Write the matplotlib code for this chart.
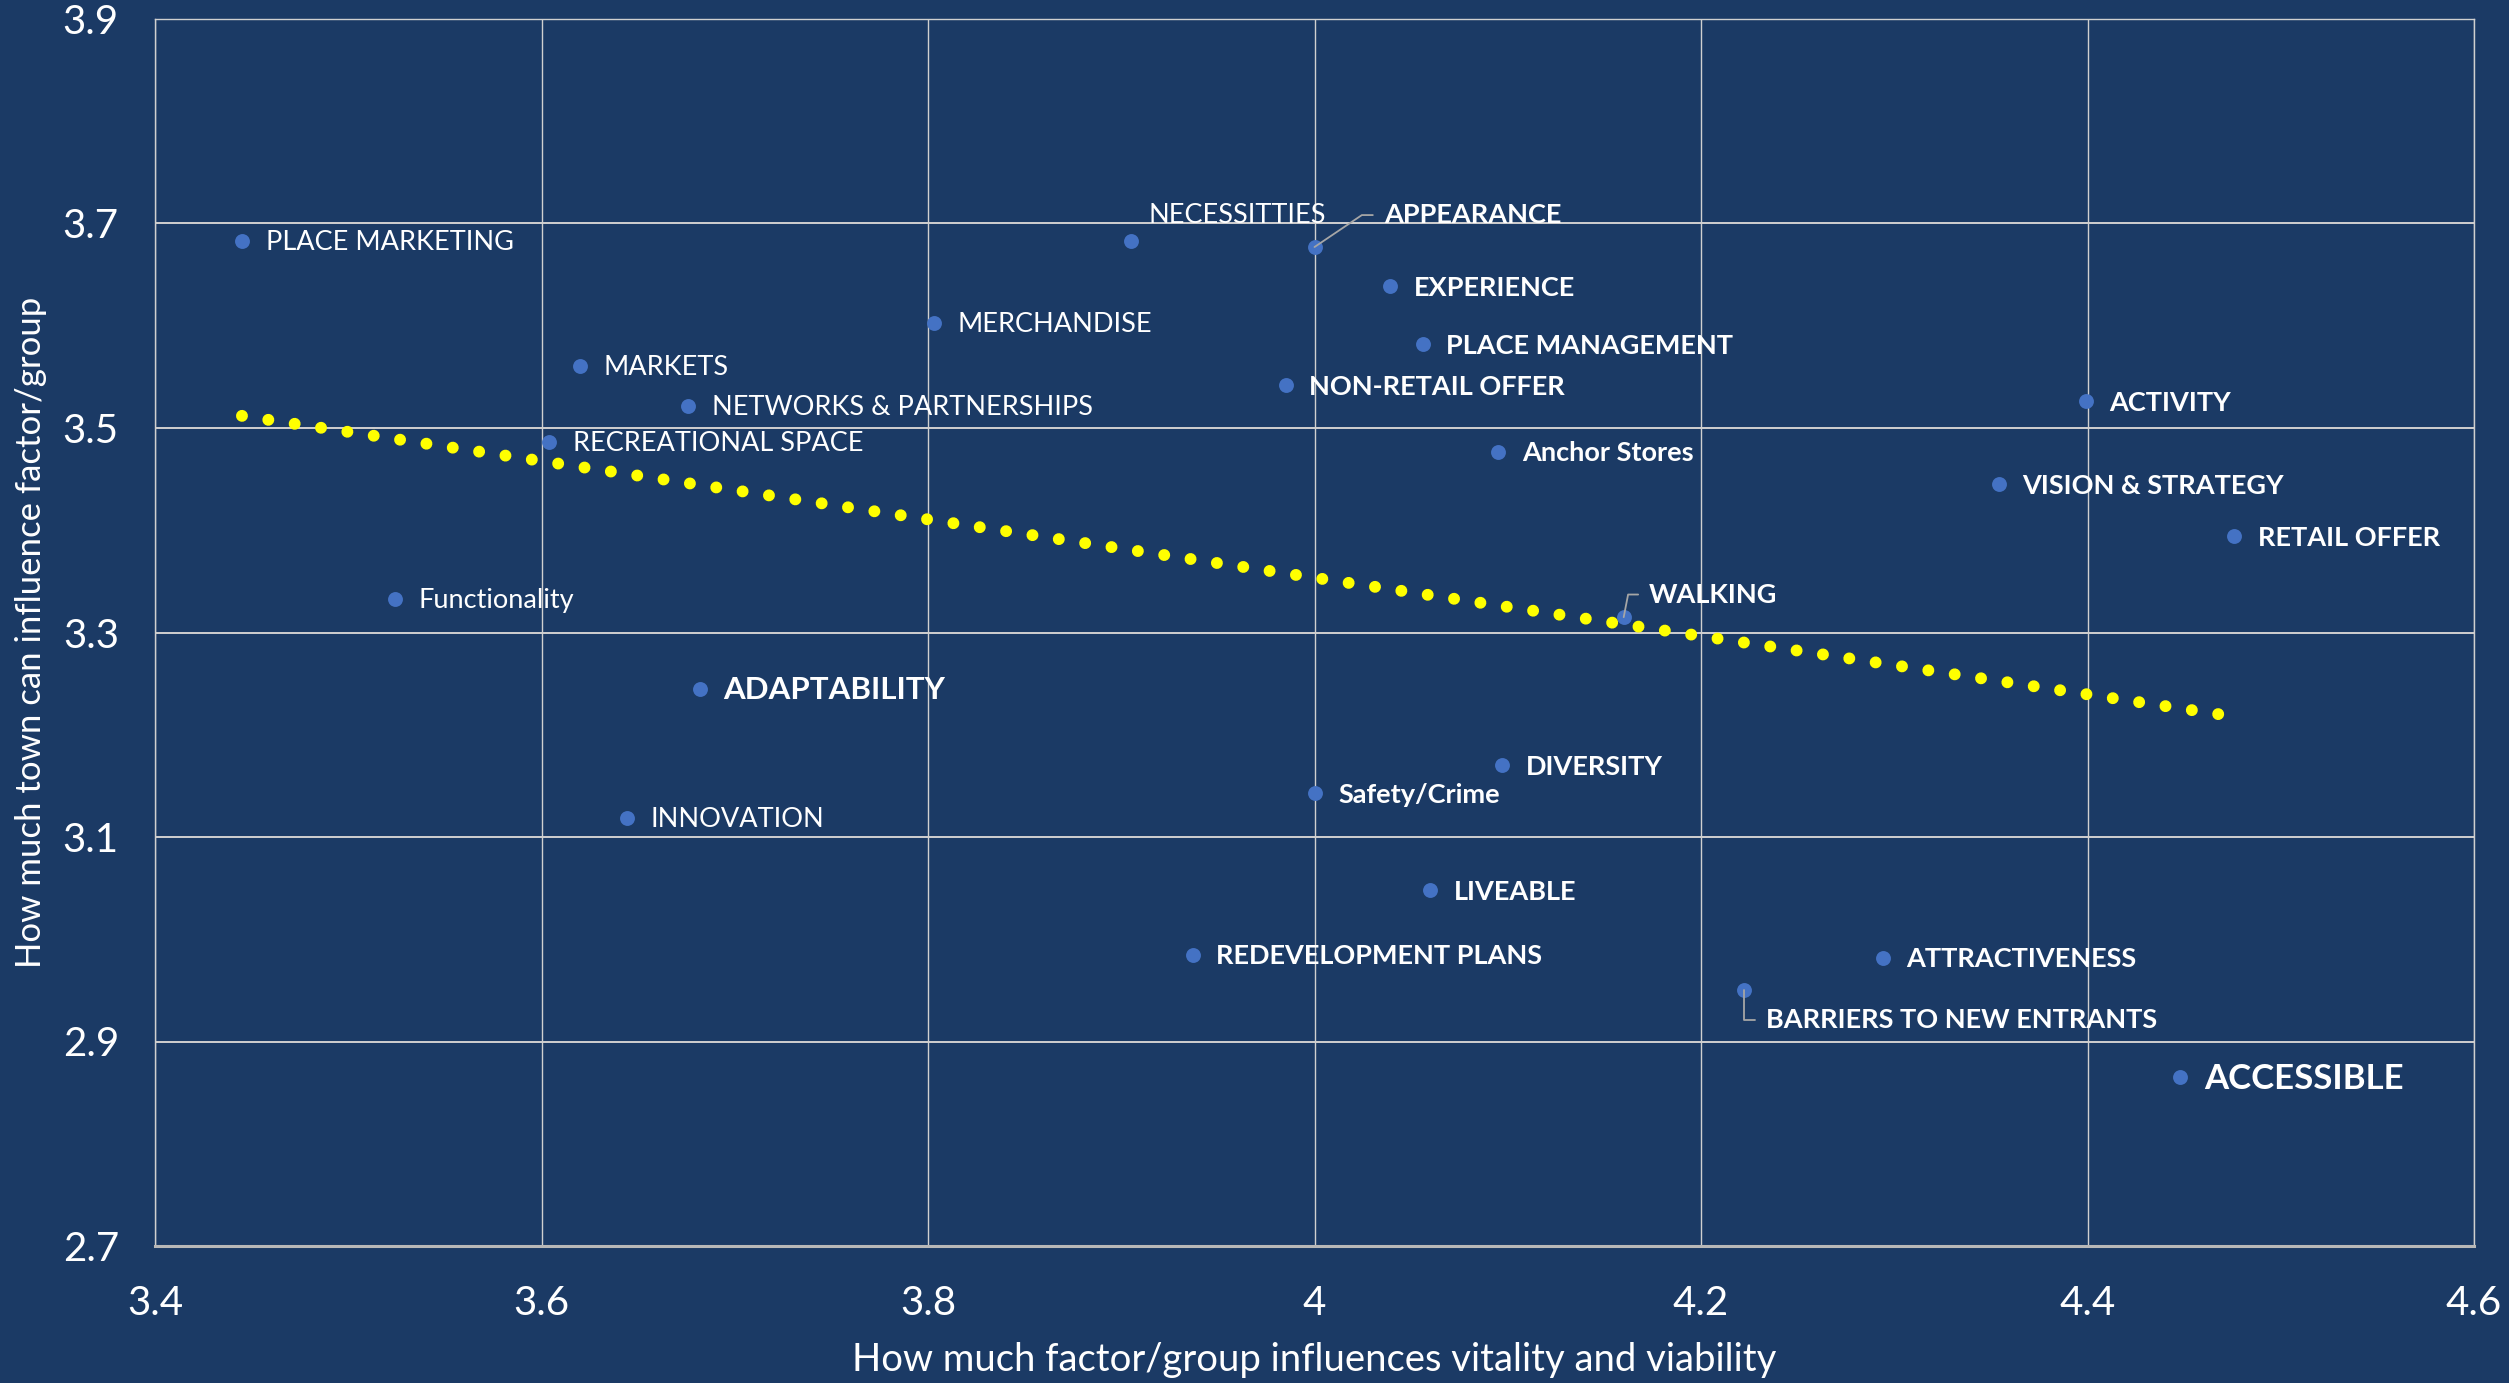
import numpy as np
import matplotlib
matplotlib.use("Agg")
import matplotlib.pyplot as plt
from matplotlib.ticker import FormatStrFormatter

plt.rcParams['font.family'] = ['Lato', 'DejaVu Sans']

# factor / group scores
names = ['PLACE MARKETING', 'NECESSITTIES', 'APPEARANCE', 'EXPERIENCE', 'MERCHANDISE',
         'PLACE MANAGEMENT', 'MARKETS', 'NON-RETAIL OFFER', 'NETWORKS & PARTNERSHIPS',
         'ACTIVITY', 'RECREATIONAL SPACE', 'Anchor Stores', 'VISION & STRATEGY',
         'RETAIL OFFER', 'Functionality', 'WALKING', 'ADAPTABILITY', 'DIVERSITY',
         'Safety/Crime', 'INNOVATION', 'LIVEABLE', 'REDEVELOPMENT PLANS',
         'ATTRACTIVENESS', 'BARRIERS TO NEW ENTRANTS', 'ACCESSIBLE']
influence = [3.445, 3.905, 4.000, 4.039, 3.803, 4.056, 3.620, 3.985, 3.676, 4.399,
             3.604, 4.095, 4.354, 4.476, 3.524, 4.160, 3.682, 4.097, 4.000, 3.644,
             4.060, 3.937, 4.294, 4.222, 4.448]
town_can = [3.683, 3.683, 3.677, 3.639, 3.603, 3.582, 3.561, 3.542, 3.522, 3.526,
            3.486, 3.477, 3.445, 3.394, 3.333, 3.315, 3.245, 3.170, 3.143, 3.119,
            3.048, 2.985, 2.982, 2.950, 2.865]

x_ticks = [3.4, 3.6, 3.8, 4.0, 4.2, 4.4, 4.6]
y_ticks = [2.7, 2.9, 3.1, 3.3, 3.5, 3.7, 3.9]

bold_names = {'APPEARANCE', 'EXPERIENCE', 'PLACE MANAGEMENT', 'NON-RETAIL OFFER', 'ACTIVITY',
              'Anchor Stores', 'VISION & STRATEGY', 'RETAIL OFFER', 'WALKING', 'ADAPTABILITY',
              'DIVERSITY', 'Safety/Crime', 'LIVEABLE', 'REDEVELOPMENT PLANS',
              'ATTRACTIVENESS', 'BARRIERS TO NEW ENTRANTS', 'ACCESSIBLE'}
big_names = {'ADAPTABILITY': 22.5, 'ACCESSIBLE': 25}

bg = '#1B3A65'
grid_col = '#D0D0D0'
lead_col = '#A6A6A6'

fig = plt.figure(figsize=(25.09, 13.83), dpi=100, facecolor=bg)
ax = fig.add_axes([155 / 2509, 1 - 1246 / 1383, 2319 / 2509, 1227 / 1383])
ax.set_facecolor(bg)

ax.set_xlim(x_ticks[0], x_ticks[-1])
ax.set_ylim(y_ticks[0], y_ticks[-1])
ax.set_xticks(x_ticks)
ax.set_yticks(y_ticks)
ax.xaxis.set_major_formatter(FormatStrFormatter('%g'))
ax.yaxis.set_major_formatter(FormatStrFormatter('%g'))
ax.tick_params(axis='both', length=0, colors='white', labelsize=29)
ax.tick_params(axis='x', pad=28)
ax.tick_params(axis='y', pad=26)

ax.grid(axis='y', color=grid_col, linewidth=1.4)
ax.grid(axis='x', color=grid_col, linewidth=1.0)
ax.set_axisbelow(True)
for side in ['top', 'left', 'right']:
    ax.spines[side].set_color(grid_col)
    ax.spines[side].set_linewidth(1.0)
ax.spines['bottom'].set_color('#B8B8B8')
ax.spines['bottom'].set_linewidth(2.2)

ax.scatter(influence, town_can, s=115, color='#4472C4', zorder=3, linewidths=0)

# linear trendline across the data range
coef = np.polyfit(influence, town_can, 1)
tx = np.array([min(influence), max(influence)])
ax.plot(tx, np.polyval(coef, tx), color='#FFFF00', linewidth=8.6,
        linestyle=(0, (0.001, 2.23)), dash_capstyle='round', zorder=4)

# labels that sit away from their point, some with leader lines
special = {
    'NECESSITTIES': ((13, 18.5), None),
    'APPEARANCE': ((50, 23), 'angle,angleA=0,angleB=34,rad=0'),
    'WALKING': ((18.4, 16.3), 'angle,angleA=0,angleB=79,rad=0'),
    'BARRIERS TO NEW ENTRANTS': ((16.5, -21), 'angle,angleA=0,angleB=90,rad=0'),
}

for name, x, y in zip(names, influence, town_can):
    weight = 'bold' if name in bold_names else 'normal'
    size = big_names.get(name, 19.5)
    offset, conn = special.get(name, ((17, -1.2), None))
    props = None
    if conn is not None:
        props = dict(arrowstyle='-', color=lead_col, lw=1.3, relpos=(0, 0.5),
                     connectionstyle=conn, shrinkA=6, shrinkB=0)
    ax.annotate(name, (x, y), xytext=offset, textcoords='offset points',
                ha='left', va='center', color='white', fontsize=size,
                fontweight=weight, arrowprops=props, zorder=5)

fig.text(1314.5 / 2509, 1 - 1360 / 1383,
         'How much factor/group influences vitality and viability',
         ha='center', va='center', color='white', fontsize=27.5)
fig.text(31 / 2509, 1 - 632 / 1383, 'How much town can influence factor/group',
         rotation=90, ha='center', va='center', color='white', fontsize=25)

fig.savefig('out.png', dpi=100, facecolor=bg)
